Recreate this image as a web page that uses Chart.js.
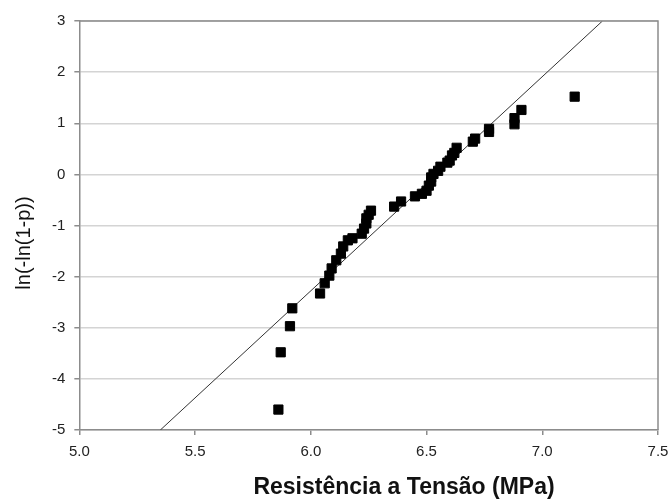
<!DOCTYPE html>
<html>
<head>
<meta charset="utf-8">
<script src="https://cdn.jsdelivr.net/npm/chart.js@4"></script>
<style>
  body { margin: 0; background: #fff; }
</style>
</head>
<body>
<canvas id="weibullChart" width="672" height="504"></canvas>
<script>
// data
const strength = [5.86, 5.87, 5.91, 5.92, 6.04, 6.06, 6.08, 6.09, 6.11, 6.13, 6.14, 6.16, 6.18,
  6.22, 6.23, 6.24, 6.24, 6.25, 6.26, 6.36, 6.39, 6.45, 6.48, 6.50, 6.51, 6.52, 6.52, 6.53,
  6.55, 6.56, 6.59, 6.60, 6.61, 6.62, 6.63, 6.70, 6.71, 6.77, 6.77, 6.88, 6.88, 6.91, 7.14];
const lnlnp = [-4.60, -3.48, -2.97, -2.62, -2.33, -2.13, -1.98, -1.84, -1.68, -1.55, -1.41, -1.29, -1.25,
  -1.16, -1.06, -0.96, -0.86, -0.79, -0.71, -0.63, -0.53, -0.43, -0.38, -0.32, -0.22, -0.14, -0.06, 0.01,
  0.07, 0.15, 0.23, 0.27, 0.37, 0.42, 0.52, 0.64, 0.70, 0.83, 0.89, 0.98, 1.10, 1.26, 1.52];
const fitX = [5.35, 7.26];
const fitY = [-5, 3];
const xTitle = 'Resistência a Tensão (MPa)';
const yTitle = 'ln(-ln(1-p))';

const ctx = document.getElementById('weibullChart').getContext('2d');

// box on top/right plus the two axis titles (Excel puts them a bit off centre)
const frame = {
    id: 'frame',
    afterDraw(chart) {
        const a = chart.chartArea;
        const c = chart.ctx;
        c.save();
        c.strokeStyle = '#8c8c8c';
        c.lineWidth = 1.5;
        c.beginPath();
        c.moveTo(a.left, a.top);
        c.lineTo(a.right, a.top);
        c.lineTo(a.right, a.bottom);
        c.stroke();

        c.fillStyle = '#111';
        c.textAlign = 'center';
        c.textBaseline = 'middle';
        c.font = 'bold 23px "Liberation Sans", Arial, sans-serif';
        c.fillText(xTitle, 404, 488);

        c.font = '20px "Liberation Sans", Arial, sans-serif';
        c.translate(24, 243);
        c.rotate(-Math.PI / 2);
        c.fillText(yTitle, 0, 0);
        c.restore();
    }
};

let weibullChart = new Chart(ctx, {
    type: 'scatter',
    data: {
        datasets: [{
            data: strength.map((v, i) => ({ x: v, y: lnlnp[i] })),
            backgroundColor: '#000',
            borderColor: '#000',
            pointStyle: 'rect',
            pointRadius: 6.5,
            pointHoverRadius: 6.5
        }, {
            type: 'line',
            data: fitX.map((v, i) => ({ x: v, y: fitY[i] })),
            borderColor: '#333',
            borderWidth: 1,
            pointRadius: 0,
            fill: false
        }]
    },
    options: {
        responsive: false,
        animation: false,
        layout: { padding: { top: 21, right: 14, left: 43, bottom: 35 } },
        plugins: { legend: { display: false }, tooltip: { enabled: false } },
        scales: {
            x: {
                min: 5, max: 7.5,
                afterFit: scale => { scale.paddingRight = 0; },
                grid: { drawOnChartArea: false, drawTicks: true, tickLength: 5, color: '#8c8c8c', lineWidth: 1.5 },
                border: { color: '#8c8c8c', width: 1.5 },
                ticks: {
                    stepSize: 0.5,
                    padding: 8,
                    maxRotation: 0,
                    color: '#222',
                    font: { family: 'Liberation Sans', size: 15 },
                    callback: v => v.toFixed(1)
                }
            },
            y: {
                min: -5, max: 3,
                grid: { color: '#d4d4d4', lineWidth: 1.5, tickLength: 5, tickColor: '#8c8c8c' },
                border: { color: '#8c8c8c', width: 1.5 },
                ticks: {
                    stepSize: 1,
                    padding: 9,
                    color: '#222',
                    font: { family: 'Liberation Sans', size: 15 }
                }
            }
        }
    },
    plugins: [frame]
});
</script>
</body>
</html>
